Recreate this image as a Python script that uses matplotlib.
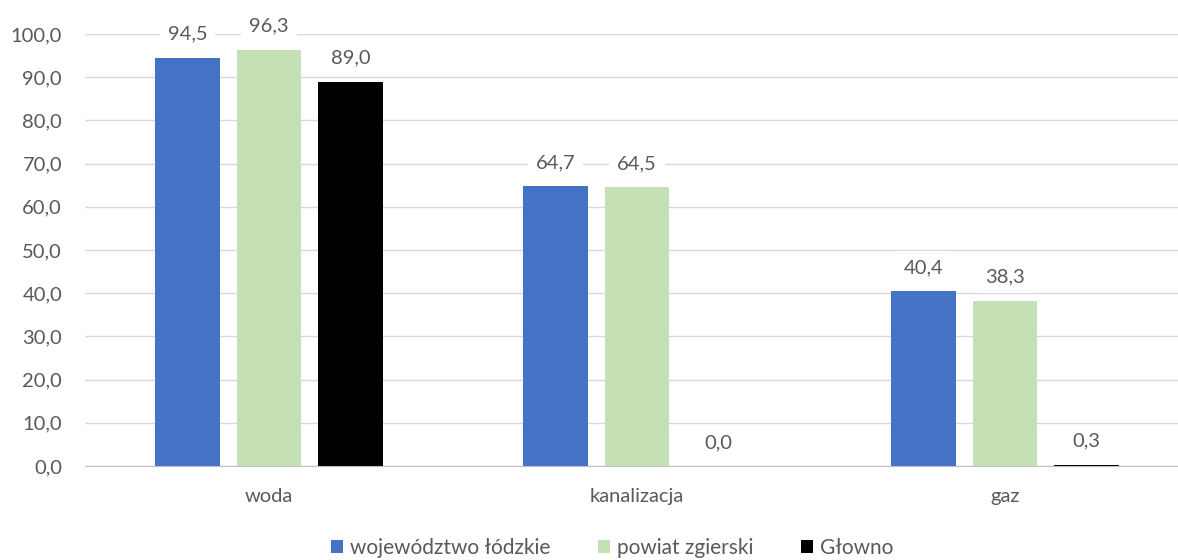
import matplotlib.pyplot as plt
import numpy as np

plt.rcParams['font.family'] = ['Lato', 'DejaVu Sans']

categories = ["woda", "kanalizacja", "gaz"]
series_names = ["województwo łódzkie", "powiat zgierski", "Głowno"]
wojewodztwo = [94.5, 64.7, 40.4]
powiat = [96.3, 64.5, 38.3]
glowno = [89.0, 0.0, 0.3]
colors = ["#4472c4", "#c5e0b4", "#000000"]

fig = plt.figure(figsize=(11.78, 5.6), dpi=100)
ax = fig.add_axes([85 / 1178, 94 / 560, 1104 / 1178, 432 / 560])

x = np.arange(len(categories))
width = 0.176
step = 0.2215
text_col = "#595959"
fs = 14.5

for i, (vals, name, col) in enumerate(zip([wojewodztwo, powiat, glowno], series_names, colors)):
    pos = x + (i - 1) * step
    ax.bar(pos, vals, width, color=col, label=name, zorder=3)
    for px, v in zip(pos, vals):
        ax.annotate(f"{v:.1f}".replace(".", ","), (px, v), xytext=(0, 17), textcoords="offset points",
                    ha="center", va="center", fontsize=fs, color=text_col, zorder=2.5,
                    bbox=dict(boxstyle="square,pad=0.4", fc="white", ec="none"))

ax.set_xlim(-0.5, 2.5)
ax.set_ylim(0, 100)
ax.set_yticks(np.arange(0, 101, 10))
ax.set_yticklabels([f"{t:.1f}".replace(".", ",") for t in np.arange(0, 101, 10)])
ax.set_xticks(x)
ax.set_xticklabels(categories)
ax.tick_params(axis="both", length=0, labelsize=fs, labelcolor=text_col)
ax.tick_params(axis="y", pad=16.5)
ax.tick_params(axis="x", pad=16)
ax.yaxis.grid(True, color="#d9d9d9", linewidth=1, zorder=0)
for s in ["top", "right", "left"]:
    ax.spines[s].set_visible(False)
ax.spines["bottom"].set_color("#bfbfbf")
ax.spines["bottom"].set_zorder(4)

fig.legend(loc="lower center", bbox_to_anchor=(612 / 1178, -0.03), ncol=3, frameon=False,
           fontsize=fs + 0.5, labelcolor=text_col, handlelength=0.6, handleheight=0.6,
           handletextpad=0.3, columnspacing=2.3)

fig.savefig("out.png", dpi=100)
